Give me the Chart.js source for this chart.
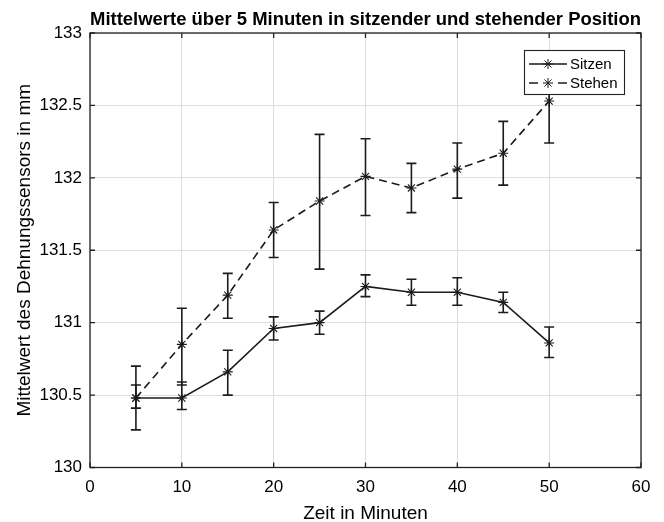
<!DOCTYPE html>
<html>
<head>
<meta charset="utf-8">
<title>Mittelwerte über 5 Minuten</title>
<script src="https://cdn.jsdelivr.net/npm/chart.js@4.4.1/dist/chart.umd.min.js"></script>
<style>
    html, body { margin: 0; padding: 0; background: #fff; }
    #wrap { width: 664px; height: 522px; }
</style>
</head>
<body>
<div id="wrap"><canvas id="chart"></canvas></div>
<script>
// Data
const minutes = [5, 10, 15, 20, 25, 30, 35, 40, 45, 50];

const sitzenMean = [130.48, 130.48, 130.66, 130.96, 131.00, 131.25, 131.21, 131.21, 131.14, 130.86];
const sitzenLow  = [130.41, 130.40, 130.50, 130.88, 130.92, 131.18, 131.12, 131.12, 131.07, 130.76];
const sitzenHigh = [130.57, 130.59, 130.81, 131.04, 131.08, 131.33, 131.30, 131.31, 131.21, 130.97];

const stehenMean = [130.48, 130.85, 131.19, 131.64, 131.84, 132.01, 131.93, 132.06, 132.17, 132.53];
const stehenLow  = [130.26, 130.57, 131.03, 131.45, 131.37, 131.74, 131.76, 131.86, 131.95, 132.24];
const stehenHigh = [130.70, 131.10, 131.34, 131.83, 132.30, 132.27, 132.10, 132.24, 132.39, 132.82];

const xTicks = [0, 10, 20, 30, 40, 50, 60];
const yTicks = [130, 130.5, 131, 131.5, 132, 132.5, 133];

const errorRanges = [
    { low: sitzenLow, high: sitzenHigh },
    { low: stehenLow, high: stehenHigh }
];

const lineColor = "#1c1c1c";
const fontFamily = "'Liberation Sans', Arial, Helvetica, sans-serif";

Chart.defaults.font.family = fontFamily;
Chart.defaults.color = "#000";

// MATLAB-like asterisk marker
function drawStar(ctx, x, y, r) {
    const d = r * Math.SQRT1_2;
    ctx.beginPath();
    ctx.moveTo(x - r, y); ctx.lineTo(x + r, y);
    ctx.moveTo(x, y - r); ctx.lineTo(x, y + r);
    ctx.moveTo(x - d, y - d); ctx.lineTo(x + d, y + d);
    ctx.moveTo(x - d, y + d); ctx.lineTo(x + d, y - d);
    ctx.stroke();
}

// Vertical error bars with caps
const errorBars = {
    id: "errorBars",
    afterDatasetsDraw(chart) {
        const { ctx, scales: { x, y } } = chart;
        ctx.save();
        chart.data.datasets.forEach((ds, di) => {
            const range = errorRanges[di];
            ctx.strokeStyle = ds.borderColor;
            ctx.lineWidth = 1.6;
            ctx.setLineDash([]);
            ds.data.forEach((p, i) => {
                const px = x.getPixelForValue(p.x);
                const top = y.getPixelForValue(range.high[i]);
                const bot = y.getPixelForValue(range.low[i]);
                ctx.beginPath();
                ctx.moveTo(px, top); ctx.lineTo(px, bot);
                ctx.moveTo(px - 5, top); ctx.lineTo(px + 5, top);
                ctx.moveTo(px - 5, bot); ctx.lineTo(px + 5, bot);
                ctx.stroke();
            });
        });
        ctx.restore();
    }
};

// Box around the axes with inward tick marks, then the legend on top
const axesBox = {
    id: "axesBox",
    afterDraw(chart) {
        const { ctx, chartArea: a, scales: { x, y } } = chart;
        const tl = 5;
        ctx.save();
        ctx.strokeStyle = "#222";
        ctx.lineWidth = 1.3;
        ctx.strokeRect(a.left, a.top, a.right - a.left, a.bottom - a.top);
        ctx.beginPath();
        xTicks.forEach(v => {
            const px = x.getPixelForValue(v);
            ctx.moveTo(px, a.bottom); ctx.lineTo(px, a.bottom - tl);
            ctx.moveTo(px, a.top); ctx.lineTo(px, a.top + tl);
        });
        yTicks.forEach(v => {
            const py = y.getPixelForValue(v);
            ctx.moveTo(a.left, py); ctx.lineTo(a.left + tl, py);
            ctx.moveTo(a.right, py); ctx.lineTo(a.right - tl, py);
        });
        ctx.stroke();

        // legend box
        const w = 100, h = 44;
        const left = a.right - 17 - w, top = a.top + 17;
        ctx.fillStyle = "#fff";
        ctx.fillRect(left, top, w, h);
        ctx.lineWidth = 1.1;
        ctx.strokeRect(left + 0.5, top + 0.5, w, h);
        chart.data.datasets.forEach((ds, i) => {
            const yy = top + 14 + i * 19;
            ctx.strokeStyle = ds.borderColor;
            ctx.lineWidth = ds.borderWidth;
            ctx.beginPath();
            if (ds.borderDash) {
                ctx.moveTo(left + 5, yy); ctx.lineTo(left + 14, yy);
                ctx.moveTo(left + 34, yy); ctx.lineTo(left + 43, yy);
            } else {
                ctx.moveTo(left + 5, yy); ctx.lineTo(left + 43, yy);
            }
            ctx.stroke();
            ctx.lineWidth = 1;
            drawStar(ctx, left + 24, yy, 5);
            ctx.fillStyle = "#000";
            ctx.font = "15px " + fontFamily;
            ctx.textAlign = "left";
            ctx.textBaseline = "middle";
            ctx.fillText(ds.label, left + 46, yy + 1);
        });
        ctx.restore();
    }
};

const ctx = document.getElementById("chart").getContext("2d");

new Chart(ctx, {
    type: "line",
    data: {
        datasets: [
            {
                label: "Sitzen",
                data: minutes.map((m, i) => ({ x: m, y: sitzenMean[i] })),
                borderColor: lineColor,
                backgroundColor: lineColor,
                borderWidth: 1.6,
                pointStyle: "star",
                pointRadius: 5,
                pointBorderWidth: 1.1,
                fill: false,
                tension: 0
            },
            {
                label: "Stehen",
                data: minutes.map((m, i) => ({ x: m, y: stehenMean[i] })),
                borderColor: lineColor,
                backgroundColor: lineColor,
                borderWidth: 1.6,
                borderDash: [8, 5],
                pointStyle: "star",
                pointRadius: 5,
                pointBorderWidth: 1.1,
                fill: false,
                tension: 0
            }
        ]
    },
    options: {
        responsive: true,
        maintainAspectRatio: false,
        animation: false,
        layout: { padding: { left: 0, right: 23, top: 0, bottom: 0 } },
        plugins: {
            legend: { display: false },
            tooltip: { enabled: false },
            title: {
                display: true,
                fullSize: false,
                text: "Mittelwerte über 5 Minuten in sitzender und stehender Position",
                color: "#000",
                font: { size: 18.5, weight: "bold" },
                padding: { top: 9, bottom: 1.8 }
            }
        },
        scales: {
            x: {
                type: "linear",
                min: 0,
                max: 60,
                afterBuildTicks: s => { s.ticks = xTicks.map(v => ({ value: v })); },
                afterFit: s => { s.height = 54.5; },
                grid: { color: "#dedede", lineWidth: 1, drawTicks: false },
                border: { display: false },
                ticks: { color: "#000", font: { size: 17 }, padding: 10, maxRotation: 0, callback: v => String(v) },
                title: {
                    display: true,
                    text: "Zeit in Minuten",
                    color: "#000",
                    font: { size: 19 },
                    padding: { top: 0, bottom: -3 }
                }
            },
            y: {
                min: 130,
                max: 133,
                afterBuildTicks: s => { s.ticks = yTicks.map(v => ({ value: v })); },
                afterFit: s => { s.width = 90; },
                grid: { color: "#dedede", lineWidth: 1, drawTicks: false },
                border: { display: false },
                ticks: { color: "#000", font: { size: 17 }, padding: 8, callback: v => String(v) },
                title: {
                    display: true,
                    text: "Mittelwert des Dehnungssensors in mm",
                    color: "#000",
                    font: { size: 19 },
                    padding: { top: 13.5, bottom: 0 }
                }
            }
        }
    },
    plugins: [errorBars, axesBox]
});
</script>
</body>
</html>
